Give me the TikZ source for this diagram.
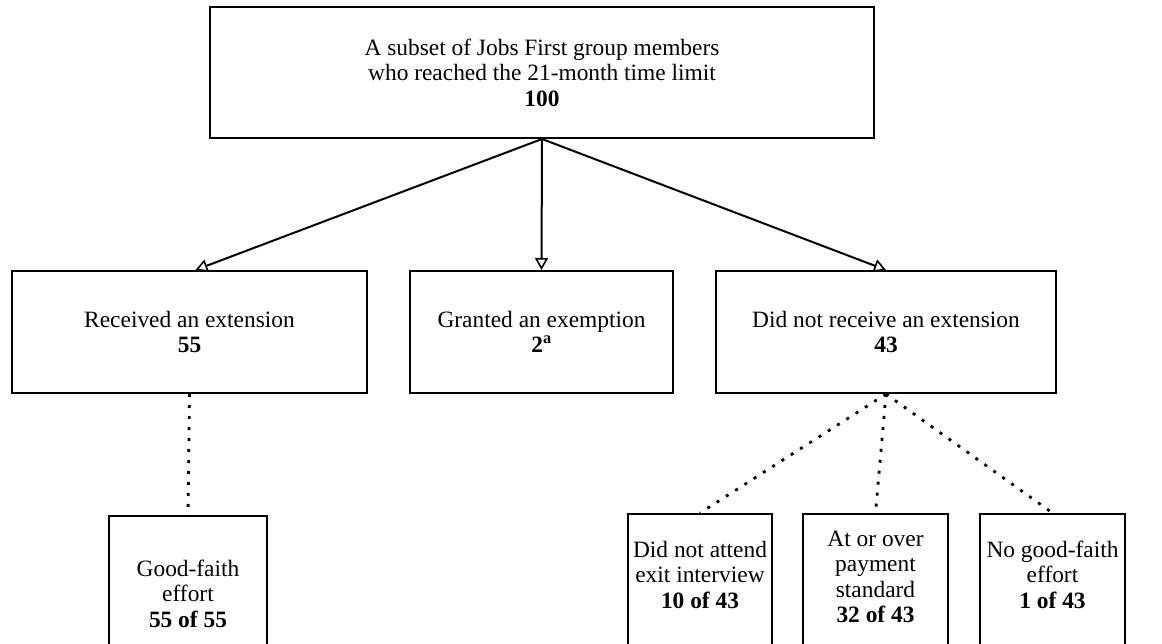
\documentclass[tikz,border=0pt]{standalone}
\usepackage{fontspec}
\setmainfont{Liberation Serif}
\usetikzlibrary{arrows.meta}

\tikzset{
  box/.style={draw, line width=2pt, align=center, inner sep=0pt,
              font=\fontsize{23.4}{25.4}\selectfont},
  leaf/.style={box, anchor=north, text depth=120pt},
  link/.style={line width=2pt,
               -{Triangle[open, length=12pt, width=13pt, line width=1.6pt]}},
  dots/.style={line width=2.8pt, dash pattern=on 3pt off 8pt},
}

\begin{document}
\begin{tikzpicture}[x=1pt, y=-1pt]

    \useasboundingbox (0,0) rectangle (1162,644);
    \clip (0,0) rectangle (1162,644);

    % ==========================================
    % TOP: whole subset
    % ==========================================

    \node[box, minimum width=664pt, minimum height=131pt] (subset) at (542,72.5)
        {A subset of Jobs First group members\\who reached the 21-month time limit\\\textbf{100}};

    % ==========================================
    % MIDDLE ROW: outcomes at the time limit
    % ==========================================

    \node[box, minimum width=355pt, minimum height=122pt] (ext)    at (189.5,332)
        {Received an extension\\\textbf{55}};
    \node[box, minimum width=263pt, minimum height=122pt] (exempt) at (541.5,332)
        {Granted an exemption\\\textbf{2\textsuperscript{a}}};
    \node[box, minimum width=340pt, minimum height=122pt] (noext)  at (886,332)
        {Did not receive an extension\\\textbf{43}};

    % Solid arrows from the subset
    \draw[link] (subset.south) -- ([xshift=6pt]ext.north);
    \draw[link] (subset.south) -- (exempt.north);
    \draw[link] (subset.south) -- (noext.north);

    % ==========================================
    % BOTTOM ROW: reasons (boxes run off the page)
    % ==========================================

    \node[leaf, minimum width=158pt, inner ysep=44pt] (faith)   at (188,515)
        {Good-faith\\effort\\\textbf{55 of 55}};
    \node[leaf, minimum width=144pt, inner ysep=27pt] (exit)    at (700,513)
        {Did not attend\\exit interview\\\textbf{10 of 43}};
    \node[leaf, minimum width=145pt, inner ysep=17pt] (pay)     at (875.5,513)
        {At or over\\payment\\standard\\\textbf{32 of 43}};
    \node[leaf, minimum width=145pt, inner ysep=27pt] (nofaith) at (1052.5,513)
        {No good-faith\\effort\\\textbf{1 of 43}};

    % Dotted links
    \draw[dots] (ext.south)   -- (faith.north);
    \draw[dots] (noext.south) -- (exit.north);
    \draw[dots] (noext.south) -- (pay.north);
    \draw[dots] (noext.south) -- (nofaith.north);

\end{tikzpicture}
\end{document}
